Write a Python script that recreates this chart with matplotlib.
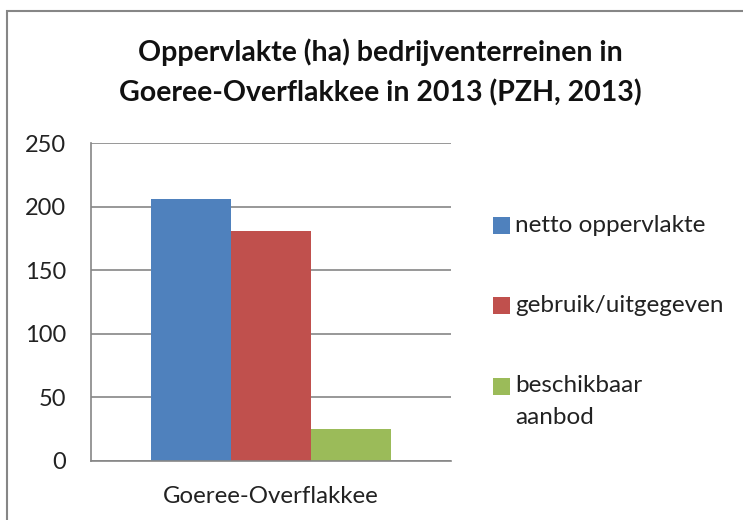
import matplotlib.pyplot as plt
from matplotlib.patches import Rectangle
import numpy as np

plt.rcParams['font.family'] = ['Lato', 'DejaVu Sans']

# data
category = "Goeree-Overflakkee"
series = ["netto oppervlakte", "gebruik/uitgegeven", "beschikbaar\naanbod"]
values = [206, 181, 25]
colors = ['#4F81BD', '#C0504D', '#9BBB59']
yticks = [0, 50, 100, 150, 200, 250]

W, H = 743, 520
fig = plt.figure(figsize=(W / 100, H / 100), dpi=100)
fig.patch.set_facecolor('white')

# chart border (right/bottom run off the image)
fig.patches.append(Rectangle((7 / W, -0.05), 1.1, 1 - 11 / H + 0.05, transform=fig.transFigure,
                             fill=False, edgecolor='#868686', linewidth=1.5))

ax = fig.add_axes([91 / W, 1 - 460.7 / H, 360 / W, (460.7 - 143.3) / H])
bw = 0.2225
offsets = (np.arange(len(values)) - 1) * bw
for off, v, c in zip(offsets, values, colors):
    ax.bar(off, v, width=bw, color=c, zorder=2)

ax.set_xlim(-0.5, 0.5)
ax.set_ylim(0, 250)
ax.set_yticks(yticks)
ax.set_yticklabels([str(t) for t in yticks], fontsize=17, color='#222222')
ax.set_xticks([0])
ax.set_xticklabels([category], fontsize=17.3, color='#222222')
ax.tick_params(axis='y', length=0, pad=18)
ax.tick_params(axis='x', length=0, pad=18)
ax.grid(axis='y', color='#868686', linewidth=1.2, zorder=0)
ax.set_axisbelow(True)
for s in ['top', 'right']:
    ax.spines[s].set_visible(False)
for s in ['left', 'bottom']:
    ax.spines[s].set_color('#868686')
    ax.spines[s].set_linewidth(1.2)

fig.text(380 / W, 1 - 52 / H, "Oppervlakte (ha) bedrijventerreinen in", ha='center', va='center',
         fontsize=20.5, fontweight='bold', color='#111111')
fig.text(380 / W, 1 - 93 / H, "Goeree-Overflakkee in 2013 (PZH, 2013)", ha='center', va='center',
         fontsize=20.5, fontweight='bold', color='#111111')

# legend drawn by hand so the marker sits next to the first line
y0, step = 225, 80.5
for i, (lab, c) in enumerate(zip(series, colors)):
    yc = y0 + i * step
    fig.patches.append(Rectangle((493 / W, 1 - (yc + 8.5) / H), 17 / W, 17 / H,
                                 transform=fig.transFigure, facecolor=c, edgecolor='none'))
    for j, line in enumerate(lab.split('\n')):
        fig.text(515 / W, 1 - (yc + j * 32) / H, line, ha='left', va='center', fontsize=17.5,
                 color='#222222')

fig.savefig('out.png', dpi=100)
